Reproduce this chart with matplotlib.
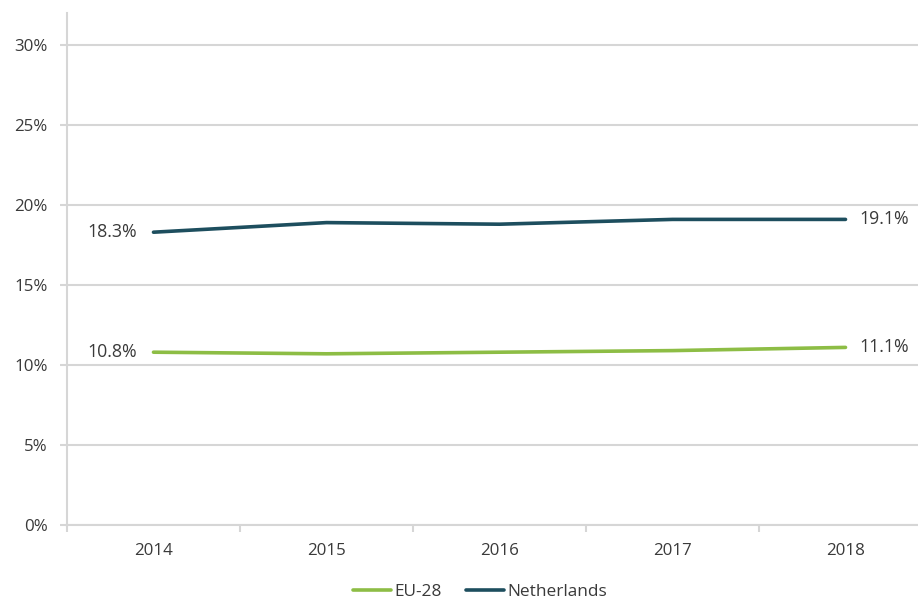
import matplotlib
matplotlib.use("Agg")
import matplotlib.pyplot as plt
from matplotlib.ticker import FixedLocator, NullFormatter

years = [2014, 2015, 2016, 2017, 2018]
eu28 = [10.8, 10.7, 10.8, 10.9, 11.1]
netherlands = [18.3, 18.9, 18.8, 19.1, 19.1]
yticks = [0, 5, 10, 15, 20, 25, 30]
series_names = ["EU-28", "Netherlands"]

plt.rcParams['font.family'] = ['Open Sans', 'DejaVu Sans']

fig = plt.figure(figsize=(9.18, 6.02), dpi=100)
ax = fig.add_axes([67/918, 77/602, 1 - 67/918, (525-13)/602])

green = "#8dbd45"
teal = "#1d4e5e"
grid = "#d6d6d6"
txt = "#3a3a3a"

ax.plot(years, eu28, color=green, lw=2.6, label=series_names[0], solid_capstyle='round')
ax.plot(years, netherlands, color=teal, lw=2.6, label=series_names[1], solid_capstyle='round')

ax.set_xlim(2013.5, 2013.5 + (918-67)/173)
ax.set_ylim(0, 32)
ax.set_yticks(yticks)
ax.set_yticklabels([f"{v}%" for v in yticks])
ax.yaxis.grid(True, color=grid, lw=1.5)
ax.set_axisbelow(True)

ax.set_xticks(years)
ax.set_xticklabels([str(y) for y in years])
ax.xaxis.set_minor_locator(FixedLocator([y + 0.5 for y in [2013, 2014, 2015, 2016, 2017]]))
ax.xaxis.set_minor_formatter(NullFormatter())
ax.tick_params(axis='x', which='major', length=0, pad=13, labelsize=12.2, labelcolor=txt)
ax.tick_params(axis='x', which='minor', length=5, width=1.5, color=grid, direction='out')
ax.tick_params(axis='y', length=5, width=1.5, color=grid, pad=9, labelsize=12.2, labelcolor=txt)

for s in ['top', 'right']:
    ax.spines[s].set_visible(False)
ax.spines['left'].set_color(grid)
ax.spines['left'].set_linewidth(1.5)
ax.spines['bottom'].set_color(grid)
ax.spines['bottom'].set_linewidth(1.5)

fs = 12.8
ax.annotate(f"{netherlands[0]}%", (years[0], netherlands[0]), xytext=(-12, 0),
            textcoords='offset points', ha='right', va='center', fontsize=fs, color=txt)
ax.annotate(f"{eu28[0]}%", (years[0], eu28[0]), xytext=(-12, 0),
            textcoords='offset points', ha='right', va='center', fontsize=fs, color=txt)
ax.annotate(f"{netherlands[-1]}%", (years[-1], netherlands[-1]), xytext=(10, 0),
            textcoords='offset points', ha='left', va='center', fontsize=fs, color=txt)
ax.annotate(f"{eu28[-1]}%", (years[-1], eu28[-1]), xytext=(10, 0),
            textcoords='offset points', ha='left', va='center', fontsize=fs, color=txt)

fig.legend(loc='center', bbox_to_anchor=(480/918, 1 - 592/602), ncol=2, frameon=False,
           fontsize=12.4, handlelength=2.2, handletextpad=0.2, columnspacing=1.4,
           labelcolor=txt)

fig.savefig("out.png", dpi=100)
